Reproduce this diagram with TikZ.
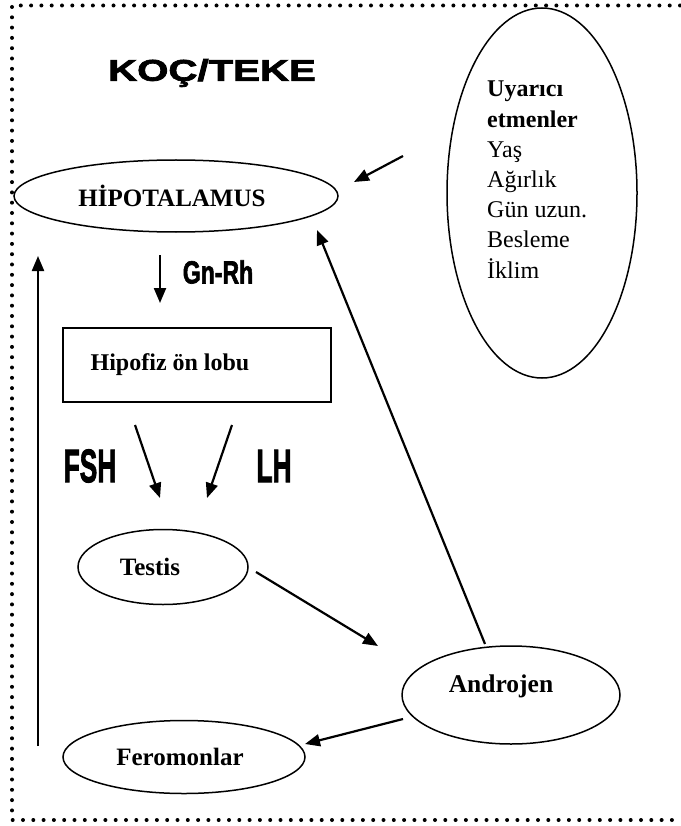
\documentclass[tikz,border=0pt]{standalone}
\usepackage{fontspec}
\usepackage{graphicx}
\setmainfont{Liberation Serif}
\setsansfont{Liberation Sans}
\newfontfamily\heavysans[FakeBold=2.2]{Liberation Sans Bold}
\usetikzlibrary{shapes.geometric,arrows.meta}

\tikzset{
  dotborder/.style={line width=4pt, line cap=round, dash pattern=on 0pt off 10.3pt},
  organ/.style={draw, ellipse, line width=1.5pt, inner sep=0pt,
                font=\fontsize{25}{28}\selectfont\bfseries},
  flow/.style={line width=2.2pt, -{Triangle[length=15pt,width=12pt]}},
  hormone/.style={font=\fontsize{47}{50}\selectfont\heavysans, inner sep=0pt},
  factor/.style={font=\fontsize{24}{30.2}\selectfont, align=left, inner sep=0pt, anchor=north west}
}

\begin{document}
\begin{tikzpicture}[x=1pt,y=-1pt]
  \useasboundingbox (0,0) rectangle (680,826);

  % dotted frame
  \draw[dotborder] (680,5.5) -- (12,5.5) -- (12,820) -- (680,820);

  % title
  \node[inner sep=0pt, font=\fontsize{30}{32}\selectfont\heavysans] (title) at (212,73)
    {\scalebox{1.34}[1]{KOÇ/TEKE}};

  % organs and hormones
  \node[organ, minimum width=324pt, minimum height=72pt] (hypo) at (176,196) {\hspace*{-8pt}HİPOTALAMUS};
  \node[draw, ellipse, line width=1.5pt, minimum width=190pt, minimum height=370pt] (stim) at (542,193) {};
  \node[factor] (stimtxt) at (487,81)
    {\textbf{Uyarıcı}\\ \textbf{etmenler}\\ Yaş\\ Ağırlık\\ Gün uzun.\\ Besleme\\ İklim};
  \node[draw, rectangle, line width=2pt, minimum width=268pt, minimum height=74pt, inner sep=0pt,
        font=\fontsize{24}{26}\selectfont\bfseries] (pit) at (197,365) {\hspace*{-54pt}Hipofiz ön lobu};
  \node[organ, minimum width=170pt, minimum height=75pt] (testis) at (163,567) {\hspace*{-26pt}Testis};
  \node[draw, ellipse, line width=1.5pt, minimum width=218pt, minimum height=98pt] (andro) at (511,695) {};
  \node[inner sep=0pt, font=\fontsize{25.5}{28}\selectfont\bfseries] (androtxt) at (501,686) {Androjen};
  \node[organ, minimum width=242pt, minimum height=73pt] (fero) at (184,757) {\hspace*{-8pt}Feromonlar};

  % hormone labels
  \node[inner sep=0pt, font=\fontsize{32}{34}\selectfont\heavysans] (gnrh) at (218,272)
    {\scalebox{0.72}[1]{Gn-Rh}};
  \node[hormone] (fsh) at (90,466) {\scalebox{0.56}[1]{FSH}};
  \node[hormone] (lh) at (274,466) {\scalebox{0.56}[1]{LH}};

  % connector ends
  \coordinate (s1) at (403,156);  \coordinate (s2) at (354,182);
  \coordinate (g1) at (160,255);  \coordinate (g2) at (160,303);
  \coordinate (f1) at (135,425);  \coordinate (f2) at (160,498);
  \coordinate (l1) at (232,425);  \coordinate (l2) at (207,498);
  \coordinate (t1) at (256,572);  \coordinate (t2) at (378,646);
  \coordinate (a1) at (485,644);  \coordinate (a2) at (317,230);
  \coordinate (a3) at (403,719);  \coordinate (a4) at (305,744);
  \coordinate (b1) at (38,746);   \coordinate (b2) at (38,256);

  % connectors
  \draw[flow] (s1) -- (s2);
  \draw[flow] (g1) -- (g2);
  \draw[flow] (f1) -- (f2);
  \draw[flow] (l1) -- (l2);
  \draw[flow] (t1) -- (t2);
  \draw[flow] (a1) -- (a2);
  \draw[flow] (a3) -- (a4);
  \draw[flow] (b1) -- (b2);
\end{tikzpicture}
\end{document}
